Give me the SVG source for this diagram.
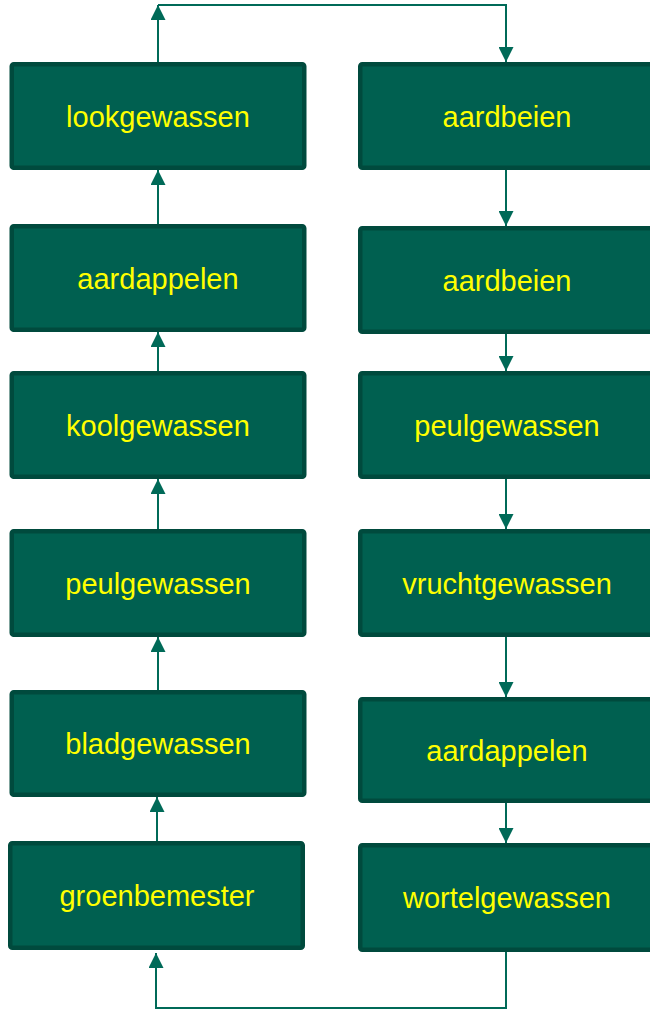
<svg xmlns="http://www.w3.org/2000/svg" width="650" height="1010" viewBox="0 0 650 1010">
<defs>
<style>
.box rect{fill:#006050;stroke:#004a3d;stroke-width:4.5}
.box text{font-family:"Liberation Sans",Arial,sans-serif;font-size:29px;fill:#ffff00;text-anchor:middle}
.con path{fill:none;stroke:#006a58;stroke-width:2}
</style>
<marker id="ah" markerUnits="userSpaceOnUse" markerWidth="15" markerHeight="15" refX="15" refY="7.5" orient="auto" viewBox="0 0 15 15">
<path d="M0,0 L15,7.5 L0,15 z" fill="#006a58"/>
</marker>
</defs>
<rect width="650" height="1010" fill="#ffffff"/>
<g class="con">
<path d="M158,62 V5" marker-end="url(#ah)"/>
<path d="M158,5 H506 V62" marker-end="url(#ah)"/>
<path d="M158,224 V170" marker-end="url(#ah)"/>
<path d="M158,371 V332" marker-end="url(#ah)"/>
<path d="M158,529 V479" marker-end="url(#ah)"/>
<path d="M158,690 V637" marker-end="url(#ah)"/>
<path d="M157,841 V797" marker-end="url(#ah)"/>
<path d="M506,170 V226" marker-end="url(#ah)"/>
<path d="M506,334 V371" marker-end="url(#ah)"/>
<path d="M506,479 V529" marker-end="url(#ah)"/>
<path d="M506,637 V697" marker-end="url(#ah)"/>
<path d="M506,803 V843" marker-end="url(#ah)"/>
<path d="M506,952 V1008 H156 V953" marker-end="url(#ah)"/>
</g>
<g id="n-lookgewassen" class="box"><rect x="11.75" y="64.25" width="292.5" height="103.5" rx="2"/><text x="158" y="126.5">lookgewassen</text></g>
<g id="n-aardappelen-l" class="box"><rect x="11.75" y="226.25" width="292.5" height="103.5" rx="2"/><text x="158" y="288.5">aardappelen</text></g>
<g id="n-koolgewassen" class="box"><rect x="11.75" y="373.25" width="292.5" height="103.5" rx="2"/><text x="158" y="435.5">koolgewassen</text></g>
<g id="n-peulgewassen-l" class="box"><rect x="11.75" y="531.25" width="292.5" height="103.5" rx="2"/><text x="158" y="593.5">peulgewassen</text></g>
<g id="n-bladgewassen" class="box"><rect x="11.75" y="692.25" width="292.5" height="102.5" rx="2"/><text x="158" y="754">bladgewassen</text></g>
<g id="n-groenbemester" class="box"><rect x="10.25" y="843.25" width="292.5" height="104.5" rx="2"/><text x="157" y="906">groenbemester</text></g>
<g id="n-aardbeien-1" class="box"><rect x="360.25" y="64.25" width="294" height="103.5" rx="2"/><text x="507" y="126.5">aardbeien</text></g>
<g id="n-aardbeien-2" class="box"><rect x="360.25" y="228.25" width="294" height="103.5" rx="2"/><text x="507" y="290.5">aardbeien</text></g>
<g id="n-peulgewassen-r" class="box"><rect x="360.25" y="373.25" width="294" height="103.5" rx="2"/><text x="507" y="435.5">peulgewassen</text></g>
<g id="n-vruchtgewassen" class="box"><rect x="360.25" y="531.25" width="294" height="103.5" rx="2"/><text x="507" y="593.5">vruchtgewassen</text></g>
<g id="n-aardappelen-r" class="box"><rect x="360.25" y="699.25" width="294" height="101.5" rx="2"/><text x="507" y="760.5">aardappelen</text></g>
<g id="n-wortelgewassen" class="box"><rect x="360.25" y="845.25" width="294" height="104.5" rx="2"/><text x="507" y="908">wortelgewassen</text></g>
</svg>
